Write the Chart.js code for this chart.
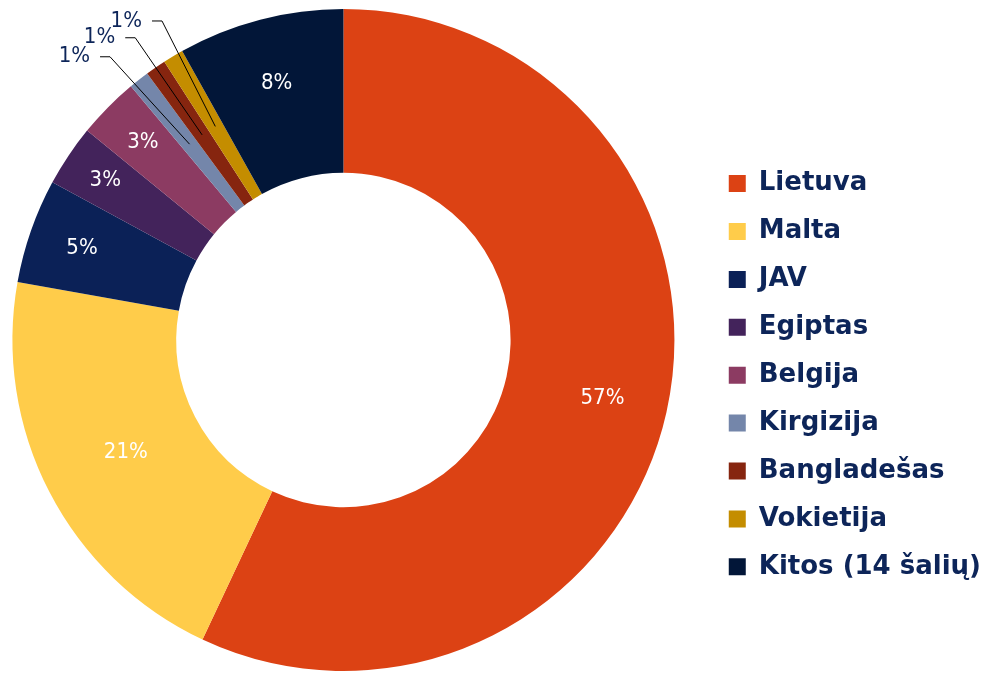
<!DOCTYPE html>
<html>
<head>
<meta charset="utf-8">
<script src="https://cdn.jsdelivr.net/npm/chart.js@4.4.0/dist/chart.umd.min.js"></script>
<style>
  body { margin: 0; background: #fff; overflow: hidden; }
  #canvas { display: block; margin-left: -20px; }
</style>
</head>
<body>
<canvas id="canvas" width="1011" height="675"></canvas>
<script>
// Data (shares in %)
const countries = ['Lietuva', 'Malta', 'JAV', 'Egiptas', 'Belgija', 'Kirgizija', 'Bangladešas', 'Vokietija', 'Kitos (14 šalių)'];
const shares = [57.0, 20.8, 5.1, 3.0, 3.0, 1.0, 1.0, 1.0, 8.1];
const sliceColors = ['#DC4214', '#FFCC4A', '#0B2157', '#43235B', '#8C3B62', '#7486AA', '#86250F', '#C48D00', '#021638'];

const navy = '#0D2559';
// how deep into the ring each inside label sits (0 = inner edge, 1 = outer edge)
const labelDepth = [0.60, 0.475, 0.67, 0.73, 0.70, 0.5, 0.5, 0.5, 0.60];

// percent labels: white inside big slices, leader lines for the small ones
const sliceLabels = {
  id: 'sliceLabels',
  afterDatasetsDraw(chart) {
    const ctx = chart.ctx;
    const arcs = chart.getDatasetMeta(0).data;
    const mids = arcs.map(a => (a.startAngle + a.endAngle) / 2);
    const small = shares.map((v, i) => i).filter(i => shares[i] < 2);
    const groupMid = small.reduce((s, i) => s + mids[i], 0) / small.length;

    ctx.save();
    ctx.font = '22px "DejaVu Sans Condensed", "DejaVu Sans", sans-serif';
    arcs.forEach((arc, i) => {
      const value = shares[i];
      const text = Math.round(value) + '%';
      const p = arc.getProps(['x', 'y', 'innerRadius', 'outerRadius'], true);
      const mid = mids[i];
      if (value >= 2) {
        const r = p.innerRadius + (p.outerRadius - p.innerRadius) * labelDepth[i];
        ctx.fillStyle = '#fff';
        ctx.textAlign = 'center';
        ctx.textBaseline = 'middle';
        ctx.fillText(text, p.x + Math.cos(mid) * r, p.y + Math.sin(mid) * r);
      } else {
        const rIn = (p.innerRadius + p.outerRadius) / 2;
        const rOut = p.outerRadius + 36;
        const a1 = mid + (mid - groupMid) * 0.37;
        const x0 = p.x + Math.cos(mid) * rIn;
        const y0 = p.y + Math.sin(mid) * rIn;
        const x1 = p.x + Math.cos(a1) * rOut;
        const y1 = p.y + Math.sin(a1) * rOut;
        ctx.strokeStyle = '#000';
        ctx.lineWidth = 1;
        ctx.beginPath();
        ctx.moveTo(x0, y0);
        ctx.lineTo(x1, y1);
        ctx.lineTo(x1 - 10, y1);
        ctx.stroke();
        ctx.fillStyle = navy;
        ctx.textAlign = 'right';
        ctx.textBaseline = 'middle';
        ctx.fillText(text, x1 - 20, y1);
      }
    });
    ctx.restore();
  }
};

const ctx = document.getElementById('canvas').getContext('2d');

new Chart(ctx, {
  type: 'doughnut',
  data: {
    labels: countries,
    datasets: [{
      data: shares,
      backgroundColor: sliceColors,
      borderWidth: 0
    }]
  },
  options: {
    responsive: false,
    animation: false,
    cutout: '50.5%',
    layout: {
      padding: { left: 0, top: 9, bottom: 4, right: 0 }
    },
    plugins: {
      tooltip: { enabled: false },
      legend: {
        position: 'right',
        title: {
          display: true,
          text: ' ',
          font: { size: 12 },
          padding: { top: 28, bottom: 28 }
        },
        labels: {
          boxWidth: 17,
          boxHeight: 17,
          padding: 21.9,
          color: navy,
          font: { family: 'DejaVu Sans', size: 26, weight: 'bold' }
        }
      }
    }
  },
  plugins: [sliceLabels]
});
</script>
</body>
</html>
